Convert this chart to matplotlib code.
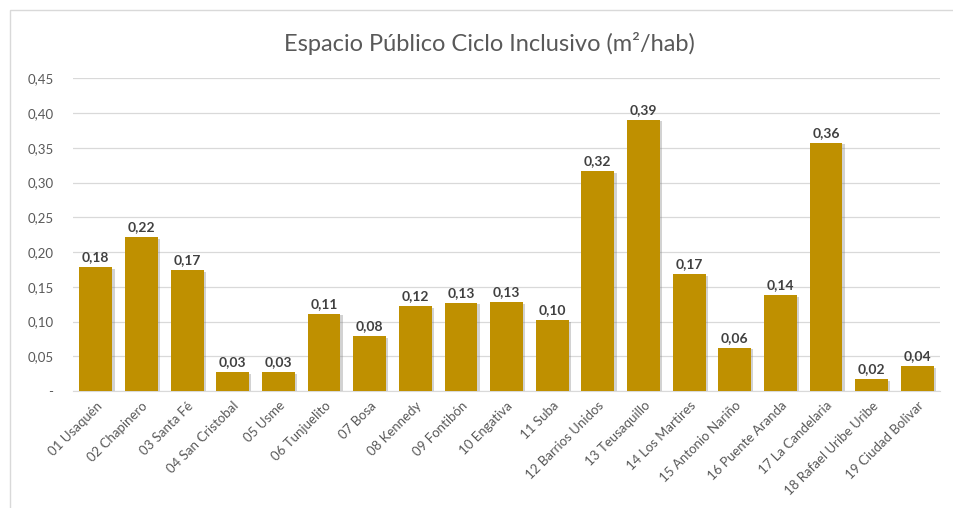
import matplotlib.pyplot as plt
from matplotlib.patches import Rectangle
from matplotlib.ticker import FuncFormatter

# Localidades de Bogotá
localidades = [
    "01 Usaquén",
    "02 Chapinero",
    "03 Santa Fé",
    "04 San Cristobal",
    "05 Usme",
    "06 Tunjuelito",
    "07 Bosa",
    "08 Kennedy",
    "09 Fontibón",
    "10 Engativa",
    "11 Suba",
    "12 Barrios Unidos",
    "13 Teusaquillo",
    "14 Los Martires",
    "15 Antonio Nariño",
    "16 Puente Aranda",
    "17 La Candelaria",
    "18 Rafael Uribe Uribe",
    "19 Ciudad Bolivar",
]

espacio = [0.178, 0.221, 0.174, 0.027, 0.027, 0.111, 0.079, 0.122, 0.127,
           0.128, 0.102, 0.316, 0.390, 0.168, 0.062, 0.138, 0.357, 0.017, 0.036]

yticks = [0, 0.05, 0.10, 0.15, 0.20, 0.25, 0.30, 0.35, 0.40, 0.45]


def graph_plot():
    plt.rcParams["font.family"] = ["Lato", "DejaVu Sans"]
    fig = plt.figure(figsize=(9.54, 5.08), dpi=100)
    ax = fig.add_axes([0.0765, 0.230, 0.909, 0.616])

    x = list(range(len(localidades)))
    width = 0.72

    # soft shadow behind the bars
    ax.bar([i + 0.05 for i in x], espacio, width, bottom=-0.002,
           color="#7f7f7f", alpha=0.35, zorder=2, linewidth=0)
    ax.bar(x, espacio, width, color="#BF9000", zorder=3, linewidth=0)

    for i, v in zip(x, espacio):
        ax.text(i, v + 0.006, f"{v:.2f}".replace(".", ","), ha="center",
                va="bottom", fontsize=10, fontweight="bold", color="#404040",
                zorder=4)

    ax.set_xlim(-0.5, len(localidades) - 0.5)
    ax.set_ylim(0, 0.45)
    ax.set_yticks(yticks)
    ax.yaxis.set_major_formatter(FuncFormatter(
        lambda v, p: "-" if v == 0 else f"{v:.2f}".replace(".", ",")))
    ax.set_xticks(x)
    ax.set_xticklabels(localidades, rotation=45, ha="right",
                       rotation_mode="anchor", fontsize=9.5, color="#595959")
    ax.tick_params(axis="y", labelsize=9.5, labelcolor="#595959", length=0, pad=14)
    ax.tick_params(axis="x", length=0, pad=6)
    ax.grid(axis="y", color="#d9d9d9", linewidth=0.9, zorder=0)
    for s in ["top", "right", "left"]:
        ax.spines[s].set_visible(False)
    ax.spines["bottom"].set_color("#d9d9d9")

    fig.text(0.513, 0.915, "Espacio Público Ciclo Inclusivo (m²/hab)",
             ha="center", va="center", fontsize=17, color="#595959")

    # chart border
    fig.patches.append(Rectangle((0.011, -0.01), 0.995, 0.99,
                                 transform=fig.transFigure, fill=False,
                                 edgecolor="#d9d9d9", linewidth=1))

    fig.savefig("out.png", dpi=100)


if __name__ == "__main__":
    graph_plot()
